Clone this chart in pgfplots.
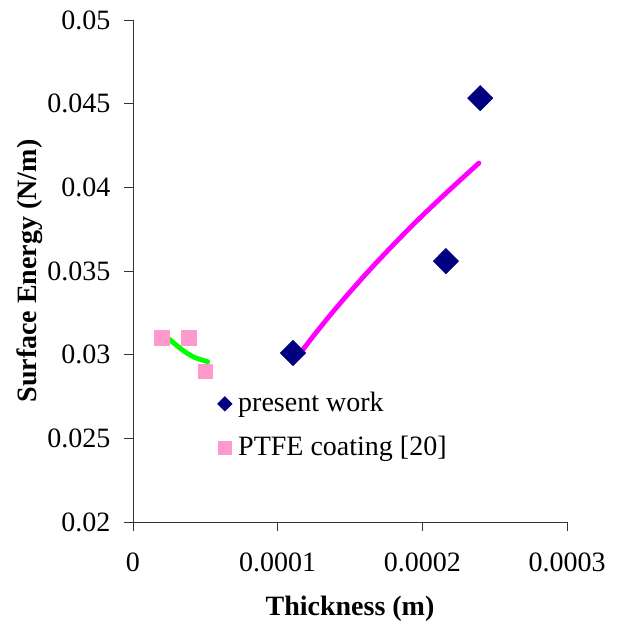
\documentclass[border=0pt]{standalone}
\usepackage{pgfplots}
\pgfplotsset{compat=1.18}
\usepackage{fontspec}
\setmainfont{Liberation Serif}
\definecolor{navy}{RGB}{0,0,128}
\definecolor{ptfepink}{RGB}{255,153,204}
\definecolor{fitgreen}{RGB}{0,255,0}
\definecolor{fitmagenta}{RGB}{255,0,255}
\begin{document}
\fontsize{21}{24}\selectfont
\begin{tikzpicture}
\begin{axis}[
    scale only axis,
    width=325.5pt,
    height=376.5pt,
    xmin=0, xmax=0.0003,
    ymin=0.02, ymax=0.05,
    xtick={0,0.0001,0.0002,0.0003},
    ytick={0.02,0.025,0.03,0.035,0.04,0.045,0.05},
    scaled x ticks=false,
    scaled y ticks=false,
    /pgf/number format/assume math mode=true,
    xticklabel style={/pgf/number format/fixed, /pgf/number format/precision=4, yshift=-9pt},
    yticklabel style={/pgf/number format/fixed, /pgf/number format/precision=3, xshift=-3pt},
    axis x line*=bottom,
    axis y line*=left,
    axis line style={black!80, line width=0.6pt},
    tick align=outside,
    major tick length=6.75pt,
    tick style={black!80, line width=0.6pt},
    xlabel={\textbf{Thickness (m)}},
    ylabel={\textbf{Surface Energy (N/m)}},
    xlabel style={yshift=-4pt},
    ylabel style={yshift=-11pt},
    legend style={draw=none, fill=none, at={(axis cs:0.0000555,0.0281)}, anchor=north west,
        row sep=11pt, nodes={inner xsep=4.5pt}, font=\fontsize{21}{24}\selectfont},
    legend cell align=left,
]
\addlegendimage{only marks, mark=diamond*, mark size=5.5pt, navy, mark options={xscale=1.333}}
\addlegendentry{present work}
\addlegendimage{only marks, mark=square*, mark size=5pt, ptfepink}
\addlegendentry{PTFE coating [20]}
% trend lines
\addplot[fitmagenta, line width=3.6pt, line cap=round, smooth, forget plot] coordinates {
    (0.000112, 0.02968)
    (0.000125, 0.03115)
    (0.000138, 0.03254)
    (0.000150, 0.03375)
    (0.000163, 0.03501)
    (0.000175, 0.03612)
    (0.000188, 0.03728)
    (0.000200, 0.03831)
    (0.000213, 0.03938)
    (0.000226, 0.04042)
    (0.0002391, 0.04145)
};
\addplot[fitgreen, line width=3.6pt, line cap=round, smooth, forget plot] coordinates {
    (0.0000205, 0.03127)
    (0.0000325, 0.03039)
    (0.0000417, 0.02987)
    (0.0000516, 0.02958)
};
% present work
\addplot[only marks, mark=diamond*, mark size=9.5pt, color=navy,
    mark options={xscale=1.333}, forget plot] coordinates {
    (0.0001106, 0.0301)
    (0.0002163, 0.03559)
    (0.00024, 0.04533)
};
% PTFE coating [20]
\addplot[only marks, mark=square*, mark size=5.5pt, color=ptfepink, forget plot] coordinates {
    (0.00002, 0.031)
    (0.0000387, 0.031)
    (0.00005, 0.029)
};
\end{axis}
\pgfresetboundingbox
\useasboundingbox (-99.75pt,-75.75pt) rectangle (363.75pt,391.5pt);
\end{tikzpicture}
\end{document}
